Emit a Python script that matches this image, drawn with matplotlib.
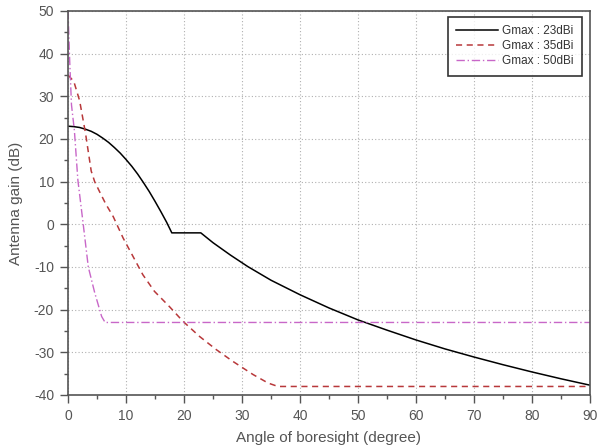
import matplotlib
matplotlib.use('Agg')
import matplotlib.pyplot as plt

plt.rcParams['font.family'] = ['Liberation Sans', 'DejaVu Sans']
plt.rcParams['axes.unicode_minus'] = False

# values
# Gmax 23 dBi
ang_23 = [0, 1, 2, 3, 4, 5, 6, 7, 8, 9, 10, 11, 12, 13, 14, 15, 16, 17, 17.9,
          22.9, 25, 28, 31, 35, 40, 45, 50, 55, 60, 65, 70, 75, 80, 85, 90]
gain_23 = [23, 22.9, 22.7, 22.3, 21.8, 21.1, 20.2, 19.2, 18, 16.7, 15.2, 13.6,
           11.8, 9.8, 7.7, 5.4, 3, 0.5, -2, -2, -4.3, -7.2, -9.9, -13.1,
           -16.5, -19.6, -22.4, -24.8, -27.1, -29.2, -31.1, -32.9, -34.6,
           -36.2, -37.7]
# Gmax 35 dBi
ang_35 = [0, 1, 2, 3, 4, 4.6, 5.5, 6.5, 7.8, 9.5, 11.2, 12.9, 14.9, 17.5,
          19.8, 22.7, 25.6, 28.4, 31.9, 34.5, 36.2, 90]
gain_35 = [35, 33.5, 29, 21.5, 12.5, 10, 7.5, 4.8, 1.8, -3.2, -7.5, -11.8,
           -15.7, -19.3, -22.7, -26.3, -29.4, -32.1, -35.2, -37.2, -38, -38]
# Gmax 50 dBi
ang_50 = [0, 0.3, 0.6, 1.1, 1.7, 2.6, 3.5, 4.6, 5.8, 6.4, 90]
gain_50 = [50, 38, 28, 22, 10.4, 0.3, -10, -16, -21.6, -23, -23]

labels = ['Gmax : 23dBi', 'Gmax : 35dBi', 'Gmax : 50dBi']

fig = plt.figure(figsize=(5.99, 4.47), dpi=100)
ax = fig.add_axes([68 / 599, 1 - 395 / 447, 522 / 599, 384 / 447])

ax.plot(ang_23, gain_23, color='black', lw=1.1, label=labels[0])
ax.plot(ang_35, gain_35, color='#b8383a', lw=1.1, ls=(0, (4, 3)), label=labels[1])
ax.plot(ang_50, gain_50, color='#c867c8', lw=1.0, ls=(0, (6, 2, 1, 2)), label=labels[2])

ax.set_xlim(0, 90)
ax.set_ylim(-40, 50)
ax.set_xticks(range(0, 91, 10))
ax.set_xticks(range(5, 90, 10), minor=True)
ax.set_yticks(range(-40, 51, 10))
ax.set_yticks(range(-35, 50, 10), minor=True)
ax.grid(True, which='major', ls=(0, (1, 2)), color='#b0b0b0', lw=0.8)
ax.tick_params(which='major', direction='out', length=6, width=1, color='#555555',
               labelsize=10, labelcolor='#555555', pad=4)
ax.tick_params(which='minor', direction='out', length=3, width=1, color='#555555')
for s in ax.spines.values():
    s.set_color('#555555')
    s.set_linewidth(1.2)

ax.set_ylabel('Antenna gain (dB)', fontsize=11, color='#555555')
ax.set_xlabel('Angle of boresight (degree)', fontsize=11, color='#555555')
ax.yaxis.set_label_coords(-0.087, 0.5)
ax.xaxis.set_label_coords(0.5, -0.094)

leg = ax.legend(loc='upper right', bbox_to_anchor=(0.985, 0.984), borderaxespad=0,
                fontsize=8.5, frameon=True, fancybox=False, handlelength=3.6,
                labelspacing=0.25, borderpad=0.7, handletextpad=0.35)
leg.get_frame().set_edgecolor('black')
leg.get_frame().set_linewidth(1.2)
for t in leg.get_texts():
    t.set_color('#333333')

fig.savefig('out.png', dpi=100)
